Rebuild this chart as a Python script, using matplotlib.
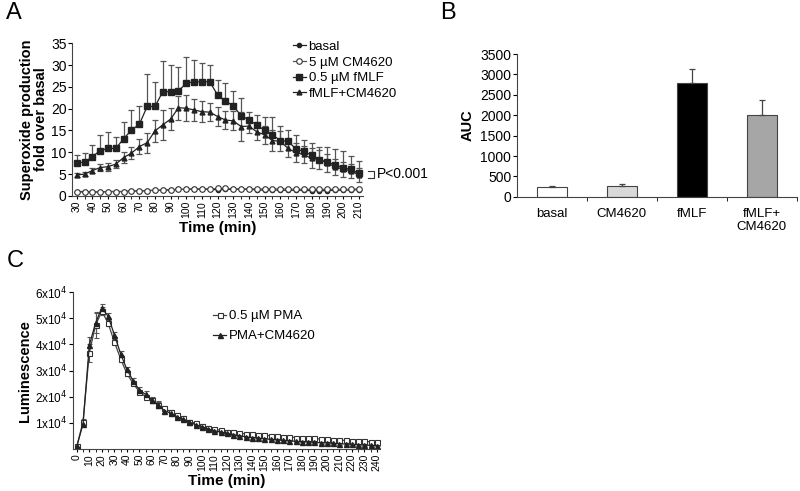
import numpy as np
import matplotlib
matplotlib.use("Agg")
import matplotlib.pyplot as plt
from matplotlib.ticker import MultipleLocator, FixedLocator

plt.rcParams['font.family'] = ['Liberation Sans', 'DejaVu Sans']

# ---- panel A data ----
time_a = list(range(30, 211, 5))
basal = [1.0, 1.0, 0.9, 0.9, 1.0, 1.0, 1.0, 1.1, 1.1, 1.2, 1.3, 1.3, 1.4, 1.5, 1.5, 1.6, 1.5, 1.5, 1.4,
         1.5, 1.5, 1.5, 1.5, 1.4, 1.3, 1.4, 1.3, 1.3, 1.3, 1.3, 1.2, 1.2, 1.2, 1.3, 1.3, 1.4, 1.4]
cm4620 = [0.9, 0.9, 0.9, 0.9, 1.0, 1.0, 1.0, 1.1, 1.2, 1.2, 1.3, 1.3, 1.4, 1.5, 1.5, 1.6, 1.6, 1.6, 1.7,
          1.7, 1.6, 1.6, 1.6, 1.6, 1.6, 1.6, 1.6, 1.6, 1.5, 1.5, 1.5, 1.5, 1.5, 1.5, 1.5, 1.5, 1.6]
fmlf = [7.6, 7.7, 9.0, 10.4, 10.9, 10.9, 13.1, 15.1, 16.4, 20.5, 20.5, 23.9, 23.9, 24.1, 25.8, 26.2, 26.1,
        26.2, 23.1, 21.8, 20.6, 18.4, 17.4, 16.3, 15.0, 14.0, 12.7, 12.5, 10.8, 10.2, 9.3, 8.3, 7.8, 7.1,
        6.5, 6.1, 5.2]
fmlf_err = [1.8, 2.1, 2.7, 3.6, 3.7, 2.7, 3.9, 4.6, 4.2, 7.5, 5.7, 7.1, 6.1, 5.5, 6.0, 5.0, 4.3, 3.8, 3.5,
            4.0, 3.5, 4.0, 1.9, 2.3, 3.2, 4.2, 3.3, 2.6, 3.2, 2.6, 2.9, 3.0, 3.4, 3.6, 3.7, 3.1, 2.7]
fmlf_cm = [4.8, 5.0, 5.8, 6.5, 6.7, 7.3, 8.8, 9.8, 11.3, 12.2, 14.9, 16.3, 17.6, 20.2, 20.1, 19.7, 19.3,
           19.2, 18.2, 17.4, 17.2, 15.9, 16.0, 14.7, 14.0, 12.7, 12.5, 10.9, 9.9, 9.5, 8.6, 8.3, 7.5, 6.7,
           6.1, 5.8, 4.8]
fmlf_cm_err = [0.4, 0.5, 0.6, 0.8, 0.9, 0.9, 1.2, 1.4, 1.8, 2.3, 2.6, 3.4, 2.6, 2.7, 3.0, 2.6, 2.4, 2.0,
               2.2, 2.0, 2.2, 3.4, 1.5, 1.8, 2.0, 2.4, 2.3, 2.0, 2.2, 2.0, 2.3, 2.2, 2.0, 1.8, 1.7, 1.6, 1.5]

# ---- panel B data ----
groups_b = ['basal', 'CM4620', 'fMLF', 'fMLF+\nCM4620']
auc = [250, 270, 2780, 2000]
auc_err = [20, 50, 360, 370]
bar_colors = ['white', '#d9d9d9', 'black', '#a6a6a6']

# ---- panel C data ----
time_c = list(range(0, 241, 5))
pma = [1000, 10500, 36800, 47300, 52700, 48200, 41000, 34600, 28900, 25100, 21900, 20000, 18800, 16900,
       15600, 14300, 13100, 11800, 10500, 9900, 8900, 8200, 7600, 7100, 6700, 6500, 6100, 5800, 5600,
       5500, 5200, 5100, 4800, 4700, 4600, 4400, 4300, 4200, 4100, 3800, 3700, 3600, 3400, 3300, 3200,
       3000, 2900, 2800, 2700]
pma_err = [200, 900, 3500, 5000, 1500, 1200, 1000, 900, 900, 800, 800, 800, 800, 1000, 800, 700, 700,
           700, 600, 600, 600, 500, 500, 500, 400, 400, 400, 400, 400, 400, 400, 400, 400, 400, 300, 300,
           300, 300, 300, 300, 300, 300, 300, 300, 300, 300, 300, 300, 300]
pma_cm = [1000, 9600, 39700, 48200, 54000, 50800, 43800, 36500, 30500, 26100, 22600, 20900, 18800, 16900,
          14700, 13700, 12400, 11400, 10300, 9300, 8600, 7700, 7000, 6500, 6100, 5500, 5100, 4700, 4300,
          4200, 3900, 3700, 3600, 3300, 3200, 2900, 2800, 2700, 2500, 2400, 2300, 2200, 2000, 1900, 1800,
          1600, 1500, 1400, 1300]
pma_cm_err = [200, 800, 3000, 4000, 1500, 1200, 1000, 1000, 900, 1000, 1000, 1100, 1200, 1300, 1000, 900,
              900, 800, 700, 600, 600, 500, 500, 400, 400, 400, 400, 300, 300, 300, 300, 300, 300, 300,
              300, 300, 300, 300, 300, 300, 300, 300, 300, 300, 300, 300, 300, 300, 300]

fig = plt.figure(figsize=(8.0, 4.91), dpi=100)
line_col = '#222222'
err_col = '#555555'

# ================= A =================
ax = fig.add_axes([0.09, 0.601, 0.364, 0.311])
ax.errorbar(time_a, fmlf, yerr=[np.zeros(len(fmlf)), fmlf_err], fmt='none', ecolor=err_col,
            elinewidth=0.9, capsize=2, capthick=0.9)
ax.errorbar(time_a, fmlf_cm, yerr=fmlf_cm_err, fmt='none', ecolor=err_col,
            elinewidth=0.9, capsize=2, capthick=0.9)
ax.plot(time_a, basal, '-o', color=line_col, ms=3, lw=0.9, label='basal')
ax.plot(time_a, cm4620, '-o', color='#555555', mfc='white', mec='#333333', ms=4, lw=0.9, mew=0.8,
        label='5 µM CM4620')
ax.plot(time_a, fmlf, '-s', color=line_col, ms=5, lw=0.9, label='0.5 µM fMLF')
ax.plot(time_a, fmlf_cm, '-^', color=line_col, ms=3.5, lw=0.9, label='fMLF+CM4620')
ax.set_xlim(27, 213)
ax.set_ylim(0, 35)
ax.yaxis.set_major_locator(MultipleLocator(5))
ax.set_xticks(range(30, 211, 10))
ax.set_xticks(range(30, 211, 5), minor=True)
ax.tick_params(axis='x', labelrotation=90, labelsize=7.5, length=2.5, pad=1)
ax.tick_params(axis='x', which='minor', length=2.5)
ax.tick_params(axis='y', labelsize=10, length=3, pad=1)
for s in ['top', 'right']:
    ax.spines[s].set_visible(False)
for s in ['left', 'bottom']:
    ax.spines[s].set_color('#444444')
ax.set_ylabel('Superoxide production\nfold over basal', fontsize=10.5, fontweight='bold', labelpad=2,
              linespacing=1.0)
ax.set_xlabel('Time (min)', fontsize=11, fontweight='bold', labelpad=2)
ax.legend(loc='upper left', bbox_to_anchor=(0.74, 1.05), frameon=False, fontsize=9.5,
          handlelength=1.0, handletextpad=0.2, labelspacing=0.25, borderaxespad=0)
# P-value bracket
bx0, bx1 = 1.018, 1.038
ax.plot([bx0, bx1, bx1, bx0], [5.8, 5.8, 4.1, 4.1], transform=ax.get_yaxis_transform(),
        color='#333333', lw=0.8, clip_on=False)
ax.text(1.048, 4.95, 'P<0.001', transform=ax.get_yaxis_transform(), fontsize=10, va='center')
fig.text(0.008, 0.995, 'A', fontsize=17, va='top')

# ================= B =================
axb = fig.add_axes([0.646, 0.599, 0.35, 0.291])
xb = np.arange(len(groups_b))
axb.bar(xb, auc, width=0.42, color=bar_colors, edgecolor='#444444', linewidth=0.8)
axb.errorbar(xb, auc, yerr=[np.zeros(len(auc)), auc_err], fmt='none', ecolor='#444444',
             elinewidth=0.9, capsize=2, capthick=0.9)
axb.set_xlim(-0.5, 3.5)
axb.set_ylim(0, 3500)
axb.yaxis.set_major_locator(MultipleLocator(500))
axb.set_xticks(xb)
axb.set_xticklabels(groups_b, fontsize=9.5, linespacing=1.1)
axb.xaxis.set_minor_locator(FixedLocator([0.5, 1.5, 2.5, 3.5]))
axb.tick_params(axis='x', which='major', length=0, pad=8)
axb.tick_params(axis='x', which='minor', length=3)
axb.tick_params(axis='y', labelsize=10, length=3, pad=1)
for s in ['top', 'right']:
    axb.spines[s].set_visible(False)
for s in ['left', 'bottom']:
    axb.spines[s].set_color('#444444')
axb.set_ylabel('AUC', fontsize=10.5, fontweight='bold', labelpad=4)
fig.text(0.55, 0.995, 'B', fontsize=17, va='top')

# ================= C =================
axc = fig.add_axes([0.091, 0.0855, 0.384, 0.3195])
axc.errorbar(time_c, pma, yerr=pma_err, fmt='none', ecolor=err_col, elinewidth=0.8, capsize=1.8,
             capthick=0.8)
axc.errorbar(time_c, pma_cm, yerr=pma_cm_err, fmt='none', ecolor=err_col, elinewidth=0.8, capsize=1.8,
             capthick=0.8)
axc.plot(time_c, pma, '-s', color='#444444', mfc='white', mec='#333333', ms=3.6, mew=0.8, lw=0.9,
         label='0.5 µM PMA')
axc.plot(time_c, pma_cm, '-^', color=line_col, ms=3.6, lw=0.9, label='PMA+CM4620')
axc.set_xlim(-3.2, 242.5)
axc.set_ylim(0, 60000)
axc.set_yticks([10000, 20000, 30000, 40000, 50000, 60000])
axc.set_yticklabels([r'1x10$^4$', r'2x10$^4$', r'3x10$^4$', r'4x10$^4$', r'5x10$^4$', r'6x10$^4$'])
axc.set_xticks(range(0, 241, 10))
axc.set_xticks(range(0, 241, 5), minor=True)
axc.tick_params(axis='x', labelrotation=90, labelsize=7.5, length=2.5, pad=1)
axc.tick_params(axis='x', which='minor', length=2.5)
axc.tick_params(axis='y', labelsize=8.5, length=3, pad=1)
for s in ['top', 'right']:
    axc.spines[s].set_visible(False)
for s in ['left', 'bottom']:
    axc.spines[s].set_color('#444444')
axc.set_ylabel('Luminescence', fontsize=10.5, fontweight='bold', labelpad=2)
axc.set_xlabel('Time (min)', fontsize=11, fontweight='bold', labelpad=2)
axc.legend(loc='upper left', bbox_to_anchor=(0.44, 0.92), frameon=False, fontsize=9.5,
           handlelength=1.0, handletextpad=0.2, labelspacing=0.6, borderaxespad=0)
fig.text(0.008, 0.49, 'C', fontsize=17, va='top')

fig.savefig('out.png', dpi=100)
